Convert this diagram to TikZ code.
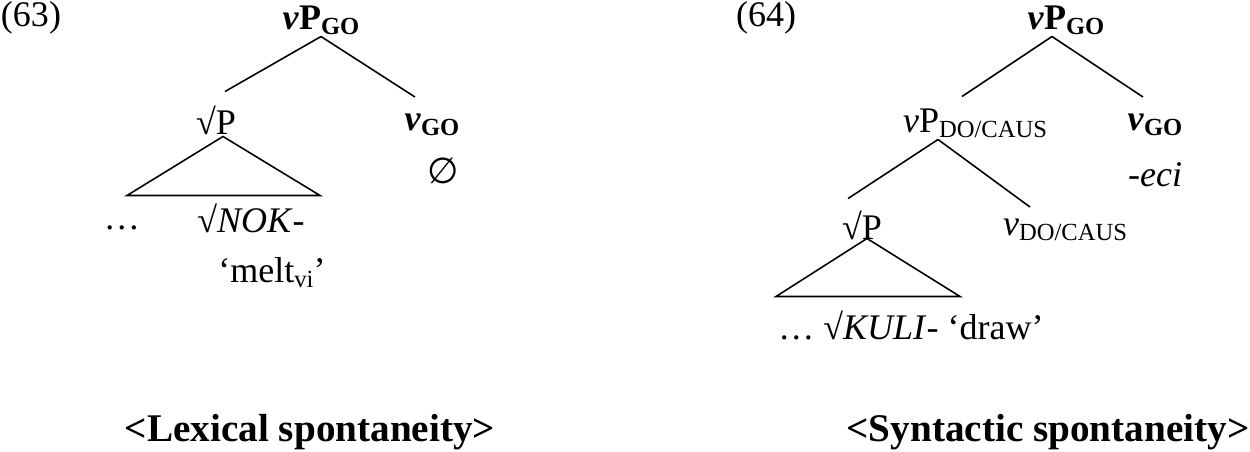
\documentclass[tikz,border=0pt]{standalone}
\usepackage{fontspec}
\setmainfont{Liberation Serif}
\newfontfamily\symfont{DejaVu Sans}
\usetikzlibrary{calc}
\newcommand{\lowsub}[1]{\raisebox{-0.3ex}{\fontsize{14}{14}\selectfont #1}}
\begin{document}
\begin{tikzpicture}[x=0.02cm,y=-0.02cm,
  every node/.style={inner sep=1pt,font=\fontsize{20.5}{24}\selectfont},
  branch/.style={line width=0.9pt},
  caption/.style={font=\fontsize{22.3}{26}\selectfont\bfseries}]
\useasboundingbox (0,0) rectangle (1250,451);
% (63) lexical
\node (ex63) at (31,18) {(63)};
\node (lroot) at (321,20) {\textbf{\textit{v}P}\lowsub{\textbf{GO}}};
\node (lsqp) at (216,120) {√P};
\node (lvgo) at (432,125) {\textbf{\textit{v}}\lowsub{\textbf{GO}}};
\node (lnull) at (443,171) {\symfont ∅};
\node (ldots) at (122,228) {…};
\node (lnok) at (251,218) {√\textit{NOK}-};
\node (lmelt) at (272,273) {‘melt\lowsub{vi}’};
\node[caption] (lcap) at (310,432) {<Lexical spontaneity>};
\draw[branch] (lroot.south) -- ($(lsqp.north)+(9,-12)$);
\draw[branch] (lroot.south) -- ($(lvgo.north)+(-17,-15)$);
\draw[branch] ($(lsqp.south)+(7,0)$) -- ++(-96,59) -- ++(193,0) -- cycle;
% (64) syntactic
\node (ex64) at (766,18) {(64)};
\node (rroot) at (1066,20) {\textbf{\textit{v}P}\lowsub{\textbf{GO}}};
\node (rvpdo) at (975,123) {\textit{v}P\lowsub{DO/CAUS}};
\node (rvgo) at (1155,125) {\textbf{\textit{v}}\lowsub{\textbf{GO}}};
\node (reci) at (1155,175) {\textit{-eci}};
\node (rsqp) at (862,225) {√P};
\node (rvdo) at (1065,230) {\textit{v}\lowsub{DO/CAUS}};
\node (rkuli) at (911,325) {… √\textit{KULI}- ‘draw’};
\node[caption] (rcap) at (1048,432) {<Syntactic spontaneity>};
\draw[branch] ($(rroot.south)+(-14,0)$) -- ($(rvpdo.north)+(-13,-10)$);
\draw[branch] ($(rroot.south)+(-14,0)$) -- ($(rvgo.north)+(-12,-15)$);
\draw[branch] ($(rvpdo.south)+(-37,0)$) -- ($(rsqp.north)+(-14,-10)$);
\draw[branch] ($(rvpdo.south)+(-37,0)$) -- ($(rvdo.north)+(-35,-10)$);
\draw[branch] ($(rsqp.south)+(5,-3)$) -- ++(-91,58) -- ++(184,0) -- cycle;
\end{tikzpicture}
\end{document}
